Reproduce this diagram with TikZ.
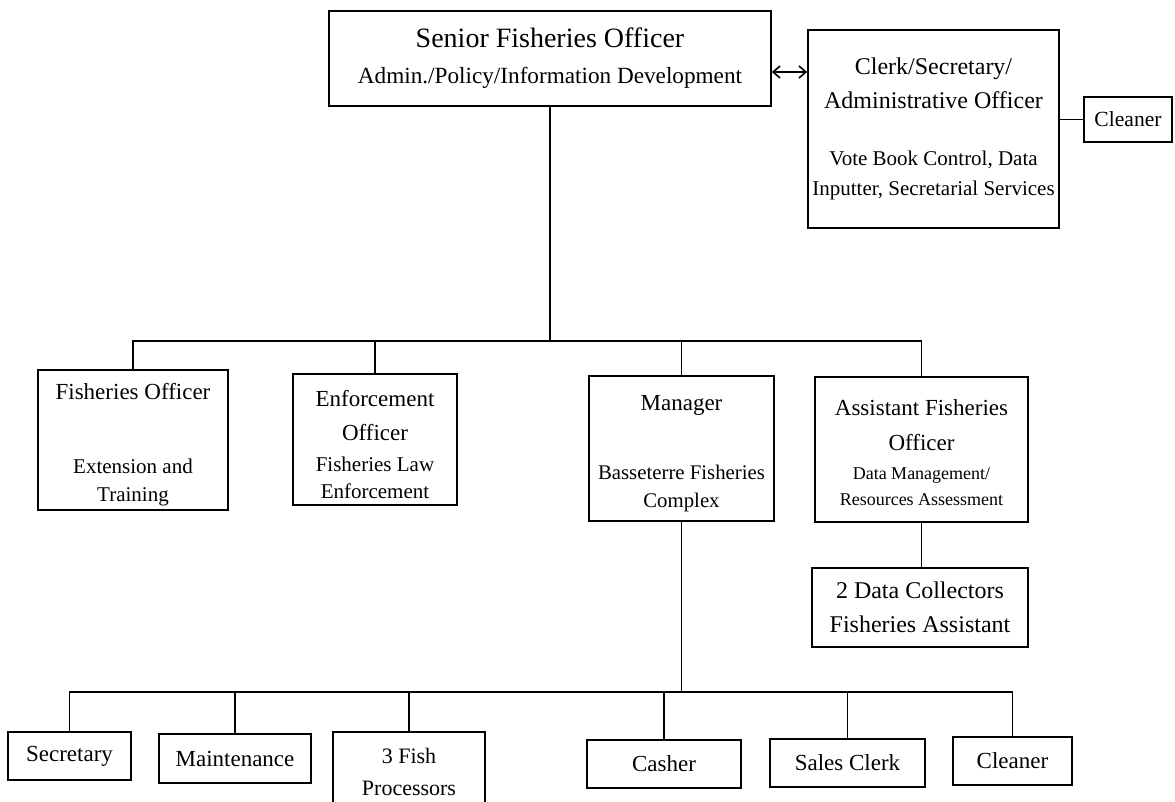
\documentclass[tikz,border=0pt]{standalone}
\usepackage{fontspec}
\setmainfont{Liberation Serif}
\usetikzlibrary{arrows.meta}
\newcommand{\fsz}[2]{\fontsize{#1}{#2}\selectfont}
\begin{document}
\begin{tikzpicture}[x=0.5pt,y=-0.5pt,
  box/.style={draw, line width=0.8pt, align=center, inner sep=0pt},
  conn/.style={line width=0.8pt},
  barb/.tip={Straight Barb[length=3.5pt,width=6pt]}]
\useasboundingbox (0,0) rectangle (1175,802);

% head of the unit
\node[box, minimum width=221pt, minimum height=47.5pt, font=\fsz{14}{18}] (sfo) at (550,58.5)
  {Senior Fisheries Officer\\ {\fsz{11.6}{18}Admin./Policy/Information Development}};
\node[box, minimum width=125.5pt, minimum height=99pt, font=\fsz{12}{17}] (clk) at (933.5,129)
  {Clerk/Secretary/\\ Administrative Officer\\[11.5pt]
   {\fsz{10.5}{15}Vote Book Control, Data}\\[-2pt]
   {\fsz{10.5}{15}Inputter, Secretarial Services}};
\node[box, minimum width=44pt, minimum height=22.5pt, font=\fsz{10.8}{13}] (tcln) at (1128,119.5) {Cleaner};

% second level
\node[box, minimum width=95pt, minimum height=70pt, font=\fsz{11.5}{14}] (fo) at (133,440)
  {\rule{0pt}{13pt}Fisheries Officer\\[23pt] {\fsz{10.5}{14}Extension and}\\ {\fsz{10.5}{14}Training}};
\node[box, minimum width=82pt, minimum height=65.5pt, font=\fsz{11.5}{17}] (enf) at (375,439.5)
  {\rule{0pt}{13pt}Enforcement\\ Officer\\[-1.5pt] {\fsz{10.5}{14}Fisheries Law}\\[-3.5pt] {\fsz{10.5}{14}Enforcement}};
\node[box, minimum width=92.5pt, minimum height=72.5pt, font=\fsz{11.5}{14}] (mgr) at (681.5,448.5)
  {\rule{0pt}{13pt}Manager\\[20.5pt] {\fsz{10.4}{14}Basseterre Fisheries}\\ {\fsz{10.4}{14}Complex}};
\node[box, minimum width=106.5pt, minimum height=72.5pt, font=\fsz{11.5}{17.5}] (afo) at (921.5,449.5)
  {\rule{0pt}{11pt}Assistant Fisheries\\ Officer\\[-3pt] {\fsz{9}{12}Data Management/}\\[-4.5pt] {\fsz{9}{12}Resources Assessment}};
\node[box, minimum width=108pt, minimum height=39.5pt, font=\fsz{12}{17}] (dc) at (920,607.5)
  {2 Data Collectors\\ Fisheries Assistant};

% staff of the complex
\node[box, minimum width=61.5pt, minimum height=24pt, font=\fsz{11.5}{14}] (sec) at (69.5,756) {Secretary};
\node[box, minimum width=76pt, minimum height=24.5pt, font=\fsz{11.5}{14}] (mnt) at (235,758.5) {Maintenance};
\node[box, minimum width=76pt, minimum height=40pt, font=\fsz{11}{16}] (fish) at (409,772) {3 Fish\\ Processors};
\node[box, minimum width=77pt, minimum height=24pt, font=\fsz{11.5}{14}] (cash) at (664,764) {Casher};
\node[box, minimum width=77.5pt, minimum height=24pt, font=\fsz{11.5}{14}] (sales) at (847.5,763) {Sales Clerk};
\node[box, minimum width=59.5pt, minimum height=24pt, font=\fsz{11.5}{14}] (cln) at (1012.5,761) {Cleaner};

% connectors
\draw[conn, barb-barb] ([yshift=-6.75pt]sfo.east) -- ([yshift=-6.75pt]sfo.east -| clk.west);
\draw[conn] (tcln.west -| clk.east) -- (tcln.west);

\coordinate (busA) at (550,341);
\draw[conn] (sfo.south) -- (busA);
\draw[conn] (fo.north) |- (busA) -| (afo.north);
\foreach \n in {enf,mgr}
  \draw[conn] (\n.north) -- (\n.north |- busA);
\draw[conn] (afo.south) -- (afo.south |- dc.north);

\coordinate (busB) at (681.5,692);
\draw[conn] (mgr.south) -- (busB);
\draw[conn] (sec.north) |- (busB) -| (cln.north);
\foreach \n in {mnt,fish,cash,sales}
  \draw[conn] (\n.north) -- (\n.north |- busB);
\end{tikzpicture}
\end{document}
